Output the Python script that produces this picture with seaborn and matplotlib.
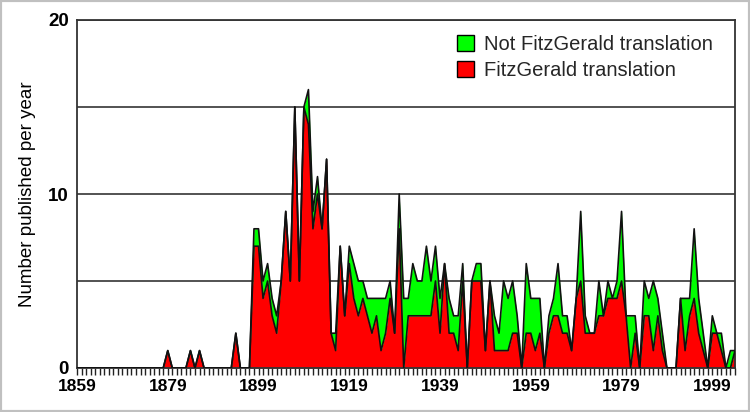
import numpy as np
import pandas as pd
import seaborn as sns
import matplotlib.pyplot as plt
from matplotlib.patches import Patch, Rectangle
from matplotlib.ticker import MultipleLocator, FixedLocator, FuncFormatter

# one value per year, 1859 .. 2004
years = list(range(1859, 2005))

fitzgerald = [
    0, 0, 0, 0, 0, 0, 0, 0, 0, 0,      # 1859-1868
    0, 0, 0, 0, 0, 0, 0, 0, 0, 0,      # 1869-1878
    1, 0, 0, 0, 0, 1, 0, 1, 0, 0,      # 1879-1888
    0, 0, 0, 0, 0, 2, 0, 0, 0, 7,      # 1889-1898
    7, 4, 5, 3, 2, 5, 9, 5, 15, 5,     # 1899-1908
    15, 14, 8, 10, 8, 12, 2, 1, 7, 3,  # 1909-1918
    6, 4, 3, 4, 3, 2, 3, 1, 2, 4,      # 1919-1928
    2, 8, 0, 3, 3, 3, 3, 3, 3, 5,      # 1929-1938
    2, 6, 2, 2, 1, 5, 0, 5, 5, 5,      # 1939-1948
    1, 5, 1, 1, 1, 1, 2, 2, 0, 2,      # 1949-1958
    2, 1, 2, 0, 2, 3, 3, 2, 2, 1,      # 1959-1968
    4, 5, 2, 2, 2, 3, 3, 4, 4, 4,      # 1969-1978
    5, 3, 0, 2, 0, 3, 3, 1, 3, 1,      # 1979-1988
    0, 0, 0, 4, 1, 3, 4, 2, 1, 0,      # 1989-1998
    2, 2, 1, 0, 0, 1,                  # 1999-2004
]

not_fitzgerald = [
    0, 0, 0, 0, 0, 0, 0, 0, 0, 0,
    0, 0, 0, 0, 0, 0, 0, 0, 0, 0,
    0, 0, 0, 0, 0, 0, 0, 0, 0, 0,
    0, 0, 0, 0, 0, 0, 0, 0, 0, 1,
    1, 1, 1, 1, 1, 0, 0, 0, 0, 0,
    0, 2, 1, 1, 0, 0, 0, 1, 0, 0,
    1, 2, 2, 1, 1, 2, 1, 3, 2, 1,
    0, 2, 4, 1, 3, 2, 2, 4, 2, 2,
    2, 0, 2, 1, 2, 1, 0, 0, 1, 1,
    0, 0, 2, 1, 4, 3, 3, 1, 0, 4,
    2, 3, 2, 0, 1, 1, 3, 1, 1, 0,
    0, 4, 1, 0, 0, 2, 0, 1, 0, 1,
    4, 0, 3, 1, 0, 2, 1, 4, 1, 1,
    0, 0, 0, 0, 3, 1, 4, 2, 1, 0,
    1, 0, 1, 0, 1, 0,
]

tick_years = list(range(1859, 2000, 20))
series_labels = ["Not FitzGerald translation", "FitzGerald translation"]
series_colors = ["#00ff00", "#ff0000"]

df = pd.DataFrame({"year": years, "fitz": fitzgerald, "other": not_fitzgerald})
df["total"] = df["fitz"] + df["other"]

sns.set_theme(style="white")
plt.rcParams["font.family"] = ["Liberation Sans", "DejaVu Sans"]

fig = plt.figure(figsize=(7.5, 4.12), dpi=100)
ax = fig.add_axes([77 / 750, 1 - 368 / 412, 658 / 750, 348 / 412])

# stacked areas
ax.fill_between(df["year"], 0, df["fitz"], color=series_colors[1], lw=0, zorder=2)
ax.fill_between(df["year"], df["fitz"], df["total"], color=series_colors[0], lw=0, zorder=2)
sns.lineplot(data=df, x="year", y="fitz", color="#111111", lw=1.2, ax=ax, zorder=3)
sns.lineplot(data=df, x="year", y="total", color="#111111", lw=1.2, ax=ax, zorder=3)

ax.set_xlim(1859, 2004)
ax.set_ylim(0, 20)

# horizontal grid lines every 5, labels every 10
ax.yaxis.set_major_locator(FixedLocator([0, 5, 10, 15, 20]))
ax.yaxis.set_major_formatter(FuncFormatter(lambda v, p: f"{v:.0f}" if v % 10 == 0 else ""))
ax.grid(axis="y", color="#444444", lw=1.3, zorder=1)
ax.grid(axis="x", visible=False)

ax.xaxis.set_major_locator(FixedLocator(tick_years))
ax.xaxis.set_minor_locator(MultipleLocator(1))
ax.xaxis.set_major_formatter(FuncFormatter(lambda v, p: f"{v:.0f}"))
ax.tick_params(axis="x", which="both", direction="out", length=5, width=1,
               color="#222222", bottom=True, pad=3)
ax.tick_params(axis="y", length=0, pad=6)
for lab in ax.get_xticklabels():
    lab.set_fontweight("bold")
    lab.set_fontsize(12.5)
    lab.set_color("black")
for lab in ax.get_yticklabels():
    lab.set_fontweight("bold")
    lab.set_fontsize(13.5)
    lab.set_color("black")

for s in ax.spines.values():
    s.set_color("#333333")
    s.set_linewidth(1.3)
    s.set_visible(True)

ax.set_xlabel("")
ax.set_ylabel("Number published per year", fontsize=13.5, color="black")
ax.yaxis.set_label_coords(-0.062, 0.5)

handles = [Patch(facecolor=c, edgecolor="black", lw=1, label=l)
           for c, l in zip(series_colors, series_labels)]
ax.legend(handles=handles, loc="upper left", bbox_to_anchor=(0.578, 0.958),
          frameon=False, fontsize=14.5, handlelength=0.85, handleheight=0.85,
          handletextpad=0.45, labelspacing=0.35, borderpad=0, borderaxespad=0)

fig.patches.append(Rectangle((0, 0), 1, 1, transform=fig.transFigure, fill=False,
                             edgecolor="#c0c0c0", lw=3))

fig.savefig("out.png", dpi=100)
